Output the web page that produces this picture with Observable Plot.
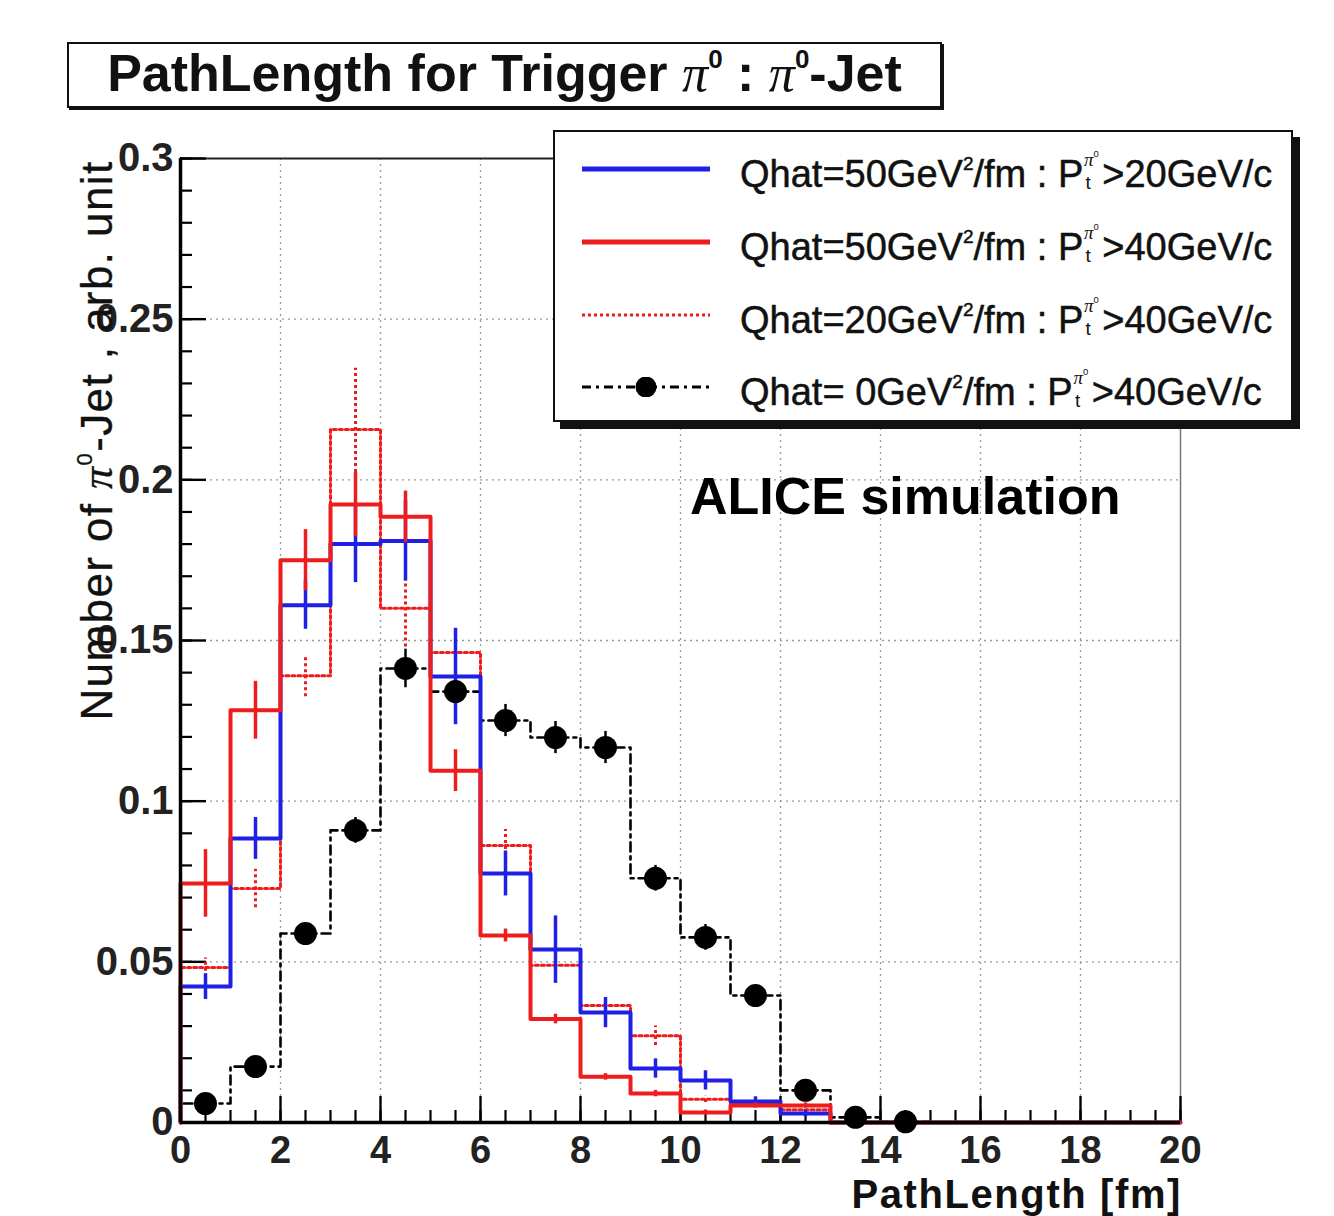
<!DOCTYPE html>
<html>
<head>
<meta charset="utf-8">
<script src="https://cdn.jsdelivr.net/npm/d3@7"></script>
<script src="https://cdn.jsdelivr.net/npm/@observablehq/plot@0.6"></script>
<style>
  html, body { margin: 0; padding: 0; background: #fff; }
  body { font-family: "Liberation Sans", Arial, Helvetica, sans-serif; }
  #wrap { position: relative; width: 1334px; height: 1216px; overflow: hidden; background: #fff; }
  #chart svg { display: block; }
  .ov { position: absolute; white-space: nowrap; color: #111; }
  #title { left: 67px; top: 42px; width: 871px; height: 62px; border: 2.5px solid #111;
           box-shadow: 2px 2px 0 #111; background: #fff; text-align: center;
           font-size: 52px; font-weight: bold; line-height: 58px; }
  #title .pi { font-weight: normal; }
  .pi { font-family: "Liberation Serif", "Times New Roman", serif; font-style: italic; }
  sup { font-size: 0.5em; vertical-align: 0.9em; line-height: 0; }
  #legend { left: 553px; top: 130px; width: 736px; height: 288px; border: 2.5px solid #111;
            box-shadow: 7px 7px 0 #111; background: #fff; }
  .lrow { position: absolute; left: 185px; font-size: 38px; line-height: 40px; -webkit-text-stroke: 0.5px #111; }
  .ss { display: inline-block; position: relative; width: 0.5em; height: 1em; }
  .ss .up { position: absolute; left: 0.04em; top: -0.45em; font-size: 0.5em; -webkit-text-stroke: 0; }
  .ss .dn { position: absolute; left: 0.12em; top: 0.75em; font-size: 0.5em; -webkit-text-stroke: 0; }
  #alice { left: 690px; top: 466px; font-size: 52px; font-weight: bold; line-height: 60px; color: #000; }
  #ylab { left: -203px; top: 416px; width: 600px; text-align: center; font-size: 44px; line-height: 48px;
          letter-spacing: 1.4px; transform: rotate(-90deg); transform-origin: 50% 50%; -webkit-text-stroke: 0.3px #111; }
  #xlab { right: 152px; top: 1179px; font-size: 40px; font-weight: bold; line-height: 30px; letter-spacing: 1.6px; }
</style>
</head>
<body>
<div id="wrap">
  <div id="chart"></div>
  <div class="ov" id="title">PathLength for Trigger <span class="pi">π</span><sup>0</sup> : <span class="pi">π</span><sup>0</sup>-Jet</div>
  <div class="ov" id="legend"></div>
  <div class="ov" id="alice">ALICE simulation</div>
  <div class="ov" id="ylab">Number of <span class="pi">π</span><sup>0</sup>-Jet , arb. unit</div>
  <div class="ov" id="xlab">PathLength [fm]</div>
</div>
<script>
// ---------------- data ----------------
// lower edges of the 1 fm bins
const binLo = [0, 1, 2, 3, 4, 5, 6, 7, 8, 9, 10, 11, 12, 13, 14, 15, 16, 17, 18, 19];
const binW = 1;

// Qhat=50 GeV^2/fm, pT > 20 GeV/c (blue)
const q50pt20 = [0.0423, 0.0884, 0.1610, 0.1800, 0.1810, 0.1388, 0.0775, 0.0538, 0.0342, 0.0168, 0.0131, 0.0065, 0.0028, 0, 0, 0, 0, 0, 0, 0];
const q50pt20Err = [0.004, 0.0065, 0.0075, 0.012, 0.0125, 0.015, 0.007, 0.0105, 0.0047, 0.003, 0.003, 0.0015, 0.001, 0, 0, 0, 0, 0, 0, 0];

// Qhat=50 GeV^2/fm, pT > 40 GeV/c (red solid)
const q50pt40 = [0.0744, 0.1283, 0.1750, 0.1923, 0.1885, 0.1095, 0.0582, 0.0322, 0.0142, 0.0090, 0.0031, 0.0053, 0.0053, 0, 0, 0, 0, 0, 0, 0];
const q50pt40Err = [0.0105, 0.009, 0.0095, 0.010, 0.008, 0.0065, 0.002, 0.0015, 0.001, 0.001, 0.0008, 0.0008, 0.0008, 0, 0, 0, 0, 0, 0, 0];

// Qhat=20 GeV^2/fm, pT > 40 GeV/c (red dotted)
const q20pt40 = [0.0482, 0.0728, 0.1390, 0.2157, 0.1600, 0.1463, 0.0862, 0.0489, 0.0364, 0.0270, 0.0072, 0.0060, 0.0040, 0, 0, 0, 0, 0, 0, 0];
const q20pt40Err = [0.003, 0.006, 0.0065, 0.019, 0.012, 0.004, 0.005, 0.003, 0.002, 0.003, 0.001, 0.001, 0.001, 0, 0, 0, 0, 0, 0, 0];

// Qhat=0 GeV^2/fm, pT > 40 GeV/c (black, dash-dot + markers)
const q0pt40 = [0.0059, 0.0174, 0.0588, 0.0909, 0.1413, 0.1341, 0.1251, 0.1198, 0.1167, 0.0760, 0.0576, 0.0395, 0.0100, 0.0016, 0.0002, 0, 0, 0, 0, 0];
const q0pt40Err = [0.001, 0.002, 0.003, 0.004, 0.006, 0.006, 0.005, 0.005, 0.005, 0.004, 0.004, 0.003, 0.002, 0.001, 0.0005, 0, 0, 0, 0, 0];

// axis ticks
const xTickLabels = [0, 2, 4, 6, 8, 10, 12, 14, 16, 18, 20];
const yTickLabels = [0, 0.05, 0.1, 0.15, 0.2, 0.25, 0.3];
const xGrid = [2, 4, 6, 8, 10, 12, 14, 16, 18];
const yGrid = [0.05, 0.1, 0.15, 0.2, 0.25];
const xMinor = d3.range(0, 20.001, 0.5);
const yMinor = d3.range(0, 0.3001, 0.01);

// legend entries
const legendLabels = [
  {q: "50", pt: "20"},
  {q: "50", pt: "40"},
  {q: "20", pt: "40"},
  {q: " 0", pt: "40"}
];

// ---------------- helpers ----------------
function stepPts(vals) {
  const pts = [{x: binLo[0], y: 0}];
  vals.forEach((v, i) => pts.push({x: binLo[i], y: v}));
  const n = vals.length - 1;
  pts.push({x: binLo[n] + binW, y: vals[n]});
  return pts;
}
function errRows(vals, errs) {
  return vals.map((v, i) => ({x: binLo[i] + binW / 2, y: v, lo: v - errs[i], hi: v + errs[i], e: errs[i]}))
             .filter(d => d.y > 0);
}

const BLUE = "#1f1fe6", RED = "#ee1c1c", BLACK = "#000";
const W = 1334, H = 1216, mL = 180, mR = 154, mT = 158, mB = 94;
const pW = W - mL - mR, pH = H - mT - mB;

const chart = Plot.plot({
  width: W, height: H,
  marginLeft: mL, marginRight: mR, marginTop: mT, marginBottom: mB,
  x: {domain: [0, 20]},
  y: {domain: [0, 0.3]},
  style: {background: "transparent", fontFamily: "'Liberation Sans', Arial, sans-serif"},
  marks: [
    // grid
    Plot.ruleX(xGrid, {stroke: "#9a9a9a", strokeWidth: 1.3, strokeDasharray: "2,4"}),
    Plot.ruleY(yGrid, {stroke: "#9a9a9a", strokeWidth: 1.3, strokeDasharray: "2,4"}),
    // frame top / right
    Plot.ruleY([0.3], {stroke: "#222", strokeWidth: 2}),
    Plot.ruleX([20], {stroke: "#777", strokeWidth: 1.5}),
    // ticks
    Plot.ruleX(xMinor, {stroke: BLACK, strokeWidth: 2.2, insetTop: pH - 12}),
    Plot.ruleX(xTickLabels, {stroke: BLACK, strokeWidth: 2.4, insetTop: pH - 26}),
    Plot.ruleY(yMinor, {stroke: BLACK, strokeWidth: 2.2, insetRight: pW - 12}),
    Plot.ruleY(yTickLabels, {stroke: BLACK, strokeWidth: 2.4, insetRight: pW - 26}),
    // Qhat = 0 histogram (dash-dot)
    Plot.line(stepPts(q0pt40), {x: "x", y: "y", curve: "step-after", stroke: BLACK, strokeWidth: 2.6, strokeDasharray: "9,5,3,5"}),
    Plot.ruleX(errRows(q0pt40, q0pt40Err), {x: "x", y1: "lo", y2: "hi", stroke: BLACK, strokeWidth: 2.5}),
    // Qhat = 20 (red dotted)
    Plot.line(stepPts(q20pt40), {x: "x", y: "y", curve: "step-after", stroke: RED, strokeWidth: 3, strokeDasharray: "3,3"}),
    Plot.ruleX(errRows(q20pt40, q20pt40Err), {x: "x", y1: "lo", y2: "hi", stroke: RED, strokeWidth: 3, strokeDasharray: "3,3"}),
    // Qhat = 50, pT>20 (blue)
    Plot.line(stepPts(q50pt20), {x: "x", y: "y", curve: "step-after", stroke: BLUE, strokeWidth: 4}),
    Plot.ruleX(errRows(q50pt20, q50pt20Err), {x: "x", y1: "lo", y2: "hi", stroke: BLUE, strokeWidth: 3.5}),
    // Qhat = 50, pT>40 (red)
    Plot.line(stepPts(q50pt40), {x: "x", y: "y", curve: "step-after", stroke: RED, strokeWidth: 4}),
    Plot.ruleX(errRows(q50pt40, q50pt40Err), {x: "x", y1: "lo", y2: "hi", stroke: RED, strokeWidth: 3.5}),
    // markers for Qhat = 0
    Plot.dot(errRows(q0pt40, q0pt40Err), {x: "x", y: "y", r: 11.5, fill: BLACK, stroke: "none"}),
    // axis lines
    Plot.ruleX([0], {stroke: BLACK, strokeWidth: 3.5}),
    Plot.ruleY([0], {stroke: BLACK, strokeWidth: 3.5}),
    // tick labels
    Plot.axisX({ticks: xTickLabels, tickSize: 0, tickPadding: 14, fontSize: 38, fontWeight: "bold", label: null, tickFormat: d => String(d), fill: "#222"}),
    Plot.axisY({ticks: yTickLabels, tickSize: 0, tickPadding: 7, fontSize: 40, fontWeight: "bold", label: null, tickFormat: d => String(d), fill: "#222"})
  ]
});
document.getElementById("chart").appendChild(chart);

// ---------------- legend ----------------
const legend = document.getElementById("legend");
const rowY = [37, 110, 183, 255];
const sampleSvg = [
  `<line x1="0" y1="10" x2="128" y2="10" stroke="${BLUE}" stroke-width="5"/>`,
  `<line x1="0" y1="10" x2="128" y2="10" stroke="${RED}" stroke-width="5"/>`,
  `<line x1="0" y1="10" x2="128" y2="10" stroke="${RED}" stroke-width="3" stroke-dasharray="3,3"/>`,
  `<line x1="0" y1="10" x2="128" y2="10" stroke="${BLACK}" stroke-width="3" stroke-dasharray="9,5,3,5"/><circle cx="64" cy="10" r="10.5" fill="${BLACK}"/>`
];
legendLabels.forEach((d, i) => {
  const s = document.createElement("div");
  s.style.position = "absolute";
  s.style.left = "27px";
  s.style.top = (rowY[i] - 10) + "px";
  s.innerHTML = `<svg width="130" height="20">${sampleSvg[i]}</svg>`;
  legend.appendChild(s);
  const t = document.createElement("div");
  t.className = "lrow";
  t.style.top = (rowY[i] - 20) + "px";
  t.innerHTML = `Qhat=${d.q.replace(" ", "&nbsp;")}GeV<sup>2</sup>/fm : P<span class="ss"><span class="up"><span class="pi">π</span><sup>0</sup></span><span class="dn">t</span></span>&gt;${d.pt}GeV/c`;
  legend.appendChild(t);
});
</script>
</body>
</html>
